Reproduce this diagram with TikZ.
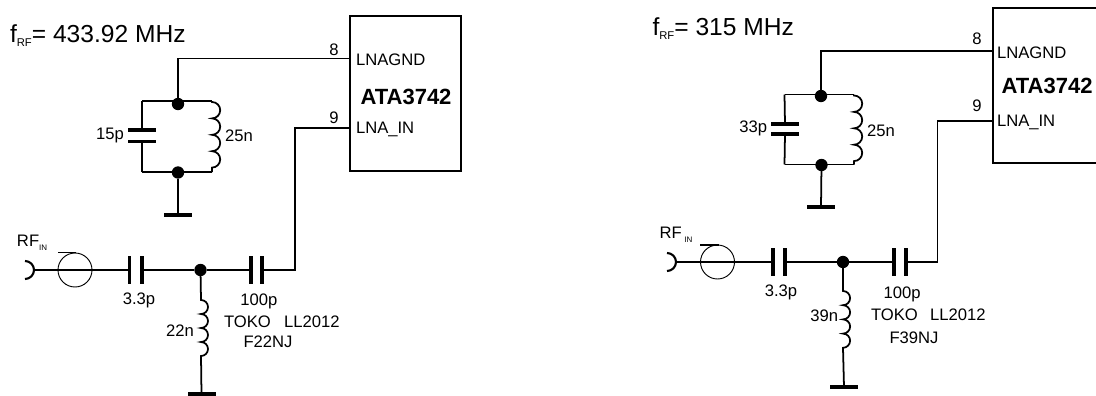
\documentclass[tikz,border=0pt]{standalone}
\usepackage{fontspec}
\setmainfont{Liberation Sans}
\usepackage{pgfplots}
\newcommand{\lowtxt}[3]{\raisebox{#1}{\fontsize{#2}{#2}\selectfont #3}}
\begin{document}
\begin{tikzpicture}[x=0.03cm, y=0.03cm]
            \tikzstyle{every node}+=[inner sep=0pt, outer sep=0pt]
            \tikzstyle{wire}=[black, line width=1.5pt]
            \tikzstyle{chip}=[draw=black, line width=1.5pt, rectangle, minimum width=3.33cm, minimum height=4.65cm]
            \tikzstyle{dot}=[fill=black, circle, minimum size=0.37cm]
            \tikzstyle{plateh}=[fill=black, rectangle, minimum width=0.84cm, minimum height=0.115cm]
            \tikzstyle{platev}=[fill=black, rectangle, minimum width=0.115cm, minimum height=0.84cm]
            \tikzstyle{srcring}=[draw=black, line width=0.8pt, circle, minimum size=1.02cm]
            \tikzstyle{lab}=[font=\fontsize{14.2}{16}\selectfont]
            \tikzstyle{freq}=[font=\fontsize{21}{23}\selectfont]
            \tikzstyle{chipname}=[font=\bfseries\fontsize{18.8}{20}\selectfont]
            \clip (0,0) rectangle (1096,-396);
            % 433.92 MHz
            \node [freq, anchor=west] (fa) at (10,-35.5) {f\lowtxt{-4pt}{9.6}{RF}= 433.92 MHz};
            \node [chip] (chipa) at (405.5,-93.5) {};
            \node [chipname] (namea) at (406,-97) {ATA3742};
            \node [lab, anchor=west] (gnda) at (356,-59.5) {LNAGND};
            \node [lab, anchor=west] (ina) at (356,-129) {LNA\_IN};
            \node [lab] (pin8a) at (334,-50) {8};
            \node [lab] (pin9a) at (334,-118) {9};
            \coordinate (p8a) at (350,-58.5);
            \coordinate (p9a) at (350,-128);
            \coordinate (k8a) at (178,-58.5);
            \coordinate (k9a) at (295,-128);
            \coordinate (k0a) at (295,-270);
            \coordinate (tla) at (142,-101);
            \coordinate (tra) at (212,-101);
            \coordinate (bla) at (142,-172);
            \coordinate (bra) at (212,-172);
            \node [dot] (d1a) at (178,-104) {};
            \node [dot] (d2a) at (178,-172.5) {};
            \node [plateh] (c1a) at (142,-130) {};
            \node [plateh] (c2a) at (142,-141.5) {};
            \node [plateh] (g1a) at (178,-215) {};
            \draw [wire] (p8a) -- (k8a) -- (d1a);
            \draw [wire] (tla) -- (tra);
            \draw [wire] (bla) -- (bra);
            \draw [wire] (tla) -- (c1a);
            \draw [wire] (bla) -- (c2a);
            \draw [wire] (d2a) -- (g1a);
            \draw [wire] (tra) -- ++(0,-1) arc (90:-90:8.2) arc (90:-90:8.2) arc (90:-90:8.2) arc (90:-90:8.2) -- (bra);
            \node [lab, anchor=east] (v1a) at (124,-136) {15p};
            \node [lab, anchor=west] (v2a) at (225,-136) {25n};
            % input side
            \node [lab, anchor=west] (rfa) at (17,-243) {RF\lowtxt{-3pt}{6.8}{IN}};
            \coordinate (jka) at (25,-261);
            \coordinate (jma) at (33,-270);
            \draw [black, line width=1.8pt] (jka) arc (90:-90:9);
            \node [srcring] (sa) at (75,-270) {};
            \coordinate (s1a) at (58,-252.5);
            \coordinate (s2a) at (76,-252.5);
            \draw [wire] (s1a) -- (s2a);
            \node [platev] (c3a) at (129.5,-270) {};
            \node [platev] (c4a) at (142,-270) {};
            \node [dot] (d3a) at (200.5,-270) {};
            \node [platev] (c5a) at (251,-270) {};
            \node [platev] (c6a) at (262,-270) {};
            \node [plateh] (g2a) at (201.5,-394) {};
            \coordinate (l1a) at (201,-300);
            \coordinate (l2a) at (201,-356);
            \draw [wire] (jma) -- (c3a);
            \draw [wire] (c4a) -- (d3a);
            \draw [wire] (d3a) -- (c5a);
            \draw [wire] (c6a) -- (k0a) -- (k9a) -- (p9a);
            \draw [wire] (d3a) -- (l1a) arc (90:-90:7) arc (90:-90:7) arc (90:-90:7) arc (90:-90:7) -- (l2a) -- (g2a);
            \node [lab] (v3a) at (139,-300) {3.3p};
            \node [lab] (v4a) at (259,-301) {100p};
            \node [lab, anchor=west] (v5a) at (224,-322) {TOKO};
            \node [lab, anchor=west] (v6a) at (284,-322) {LL2012};
            \node [lab] (v7a) at (268,-342) {F22NJ};
            \node [lab, anchor=east] (v8a) at (194,-331) {22n};
            % 315 MHz
            \node [freq, anchor=west] (fb) at (652.5,-28.5) {f\lowtxt{-4pt}{9.6}{RF}= 315 MHz};
            \node [chip] (chipb) at (1048.5,-85.5) {};
            \node [chipname] (nameb) at (1047,-86) {ATA3742};
            \node [lab, anchor=west] (gndb) at (997,-52.5) {LNAGND};
            \node [lab, anchor=west] (inb) at (997,-122) {LNA\_IN};
            \node [lab] (pin8b) at (977,-39) {8};
            \node [lab] (pin9b) at (977,-106) {9};
            \coordinate (p8b) at (993,-51);
            \coordinate (p9b) at (993,-121);
            \coordinate (k8b) at (821,-51);
            \coordinate (k9b) at (937.5,-121);
            \coordinate (k0b) at (937.5,-262);
            \coordinate (tlb) at (784.5,-94.5);
            \coordinate (trb) at (854,-94.5);
            \coordinate (blb) at (784.5,-164.5);
            \coordinate (brb) at (854,-164.5);
            \node [dot] (d1b) at (821,-96) {};
            \node [dot] (d2b) at (821.5,-165) {};
            \node [plateh] (c1b) at (785,-124) {};
            \node [plateh] (c2b) at (785,-134) {};
            \node [plateh] (g1b) at (821,-207) {};
            \draw [wire] (p8b) -- (k8b) -- (d1b);
            \draw [wire] (tlb) -- (trb);
            \draw [wire] (blb) -- (brb);
            \draw [wire] (tlb) -- (c1b);
            \draw [wire] (blb) -- (c2b);
            \draw [wire] (d2b) -- (g1b);
            \draw [wire] (trb) -- ++(0,-1) arc (90:-90:8.2) arc (90:-90:8.2) arc (90:-90:8.2) arc (90:-90:8.2) -- (brb);
            \node [lab, anchor=east] (v1b) at (767,-128) {33p};
            \node [lab, anchor=west] (v2b) at (867,-131) {25n};
            % input side
            \node [lab, anchor=west] (rfb) at (659.5,-235) {RF\lowtxt{-3pt}{6.8}{\,\,IN}};
            \coordinate (jkb) at (667,-253);
            \coordinate (jmb) at (675,-262);
            \draw [black, line width=1.8pt] (jkb) arc (90:-90:9);
            \node [srcring] (sb) at (717.5,-262) {};
            \coordinate (s1b) at (700,-245);
            \coordinate (s2b) at (719,-245);
            \draw [wire] (s1b) -- (s2b);
            \node [platev] (c3b) at (773,-262) {};
            \node [platev] (c4b) at (785,-262) {};
            \node [dot] (d3b) at (843,-262) {};
            \node [platev] (c5b) at (894,-262) {};
            \node [platev] (c6b) at (906,-262) {};
            \node [plateh] (g2b) at (844,-387) {};
            \coordinate (l1b) at (843,-291);
            \coordinate (l2b) at (843,-348);
            \draw [wire] (jmb) -- (c3b);
            \draw [wire] (c4b) -- (d3b);
            \draw [wire] (d3b) -- (c5b);
            \draw [wire] (c6b) -- (k0b) -- (k9b) -- (p9b);
            \draw [wire] (d3b) -- (l1b) arc (90:-90:7.1) arc (90:-90:7.1) arc (90:-90:7.1) arc (90:-90:7.1) -- (l2b) -- (g2b);
            \node [lab] (v3b) at (781,-292) {3.3p};
            \node [lab] (v4b) at (902,-294) {100p};
            \node [lab, anchor=west] (v5b) at (871,-315) {TOKO};
            \node [lab, anchor=west] (v6b) at (930,-315) {LL2012};
            \node [lab] (v7b) at (914,-338) {F39NJ};
            \node [lab, anchor=east] (v8b) at (838,-316) {39n};
        \end{tikzpicture}
\end{document}
